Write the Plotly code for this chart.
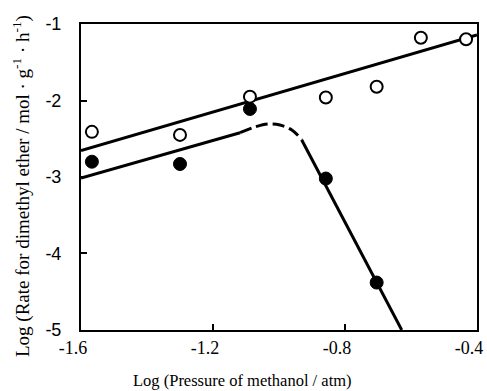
import plotly.graph_objects as go

# Measured data (log values)
open_x = [-1.567, -1.30, -1.088, -0.858, -0.704, -0.570, -0.433]
open_y = [-2.41, -2.45, -1.95, -1.96, -1.82, -1.18, -1.20]
filled_x = [-1.567, -1.30, -1.088, -0.858, -0.704]
filled_y = [-2.80, -2.83, -2.11, -3.02, -4.38]

# Fitted lines
upper_x = [-1.6, -0.4]
upper_y = [-2.656, -1.144]
lower_x = [-1.6, -1.118]
lower_y = [-3.013, -2.421]
dash_x = [-1.118, -1.073, -1.033, -0.997, -0.961, -0.930]
dash_y = [-2.421, -2.346, -2.307, -2.320, -2.386, -2.516]
steep_x = [-0.931, -0.628]
steep_y = [-2.516, -5.0]

x_ticks = [-1.6, -1.2, -0.8, -0.4]
x_labels = ["-1.6", "-1.2", "-0.8", "-0.4"]
y_ticks = [-1, -2, -3, -4, -5]
y_labels = ["-1", "-2", "-3", "-4", "-5"]

serif = "Liberation Serif"
black = "#000000"

fig = go.Figure()
fig.add_trace(go.Scatter(x=upper_x, y=upper_y, mode="lines",
                         line=dict(color=black, width=3), showlegend=False))
fig.add_trace(go.Scatter(x=lower_x, y=lower_y, mode="lines",
                         line=dict(color=black, width=3), showlegend=False))
fig.add_trace(go.Scatter(x=dash_x, y=dash_y, mode="lines",
                         line=dict(color=black, width=3, dash="12px,5px", shape="spline"),
                         showlegend=False))
fig.add_trace(go.Scatter(x=steep_x, y=steep_y, mode="lines",
                         line=dict(color=black, width=3), showlegend=False))
fig.add_trace(go.Scatter(x=open_x, y=open_y, mode="markers",
                         marker=dict(symbol="circle", size=12, color="white",
                                     line=dict(color=black, width=2)),
                         showlegend=False, cliponaxis=False))
fig.add_trace(go.Scatter(x=filled_x, y=filled_y, mode="markers",
                         marker=dict(symbol="circle", size=13, color=black,
                                     line=dict(color=black, width=1)),
                         showlegend=False, cliponaxis=False))

fig.update_layout(
    width=487, height=391,
    margin=dict(l=81, r=10, t=24, b=61),
    paper_bgcolor="white", plot_bgcolor="white",
    font=dict(family=serif, color=black, size=16),
    xaxis=dict(range=[-1.6, -0.3999], tickvals=x_ticks, ticktext=x_labels,
               ticklabeloverflow="allow", ticklabelshift=-8,
               automargin=False,
               ticks="inside", ticklen=6, tickwidth=1.5, tickcolor=black,
               showline=True, linecolor=black, linewidth=2, mirror=True,
               showgrid=False, zeroline=False,
               tickfont=dict(family=serif, size=18, color=black)),
    yaxis=dict(range=[-5.0001, -1], tickvals=y_ticks, ticktext=y_labels,
               ticklabeloverflow="allow", automargin=False,
               ticks="inside", ticklen=6, tickwidth=1.5, tickcolor=black,
               showline=True, linecolor=black, linewidth=2, mirror=True,
               showgrid=False, zeroline=False, ticklabelstandoff=14,
               tickfont=dict(family="Liberation Sans", size=18, color=black)),
    annotations=[
        dict(text="Log (Pressure of methanol / atm)", xref="paper", yref="paper",
             x=(242 - 81) / 396, y=-(380 - 330) / 306, xanchor="center", yanchor="middle",
             showarrow=False, font=dict(family=serif, size=16.5, color=black)),
        dict(text="Log (Rate for dimethyl ether / mol \u00b7 g<sup>-1</sup> \u00b7 h<sup>-1</sup>)",
             xref="paper", yref="paper", textangle=-90,
             x=-(81 - 21) / 396, y=(330 - 186) / 306, xanchor="center", yanchor="middle",
             showarrow=False, font=dict(family=serif, size=19, color=black)),
    ],
)

fig.write_html("out.html")
